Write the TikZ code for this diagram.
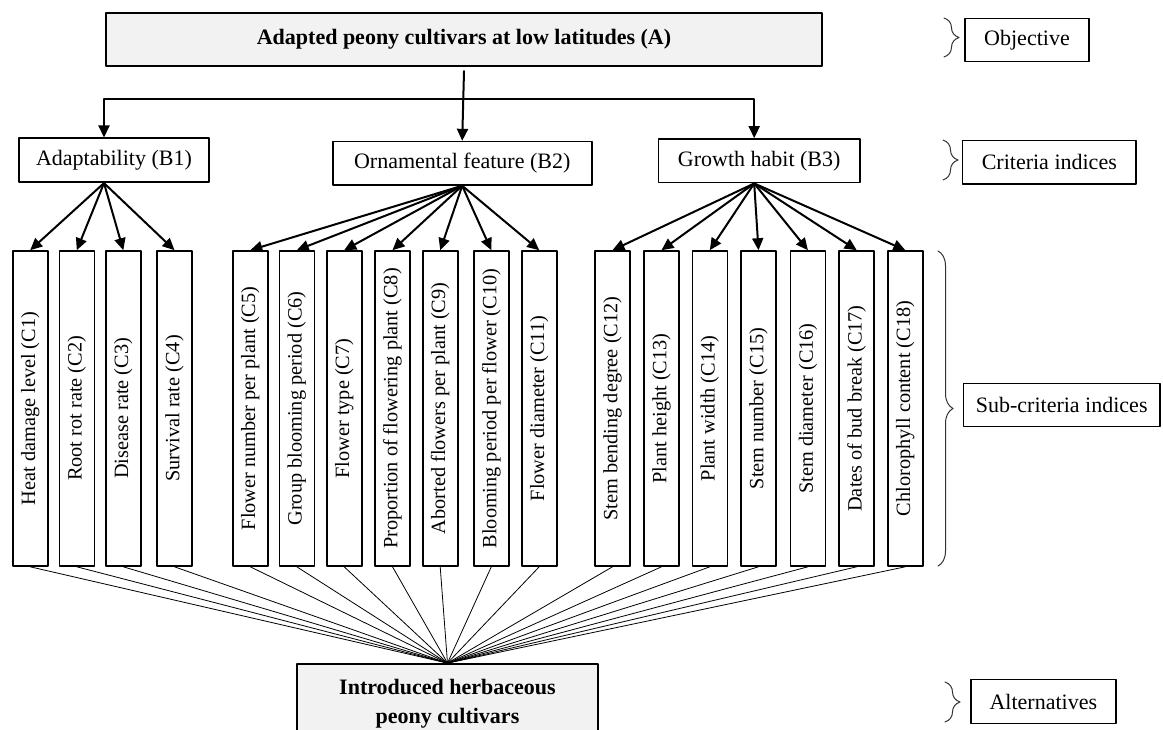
\documentclass[tikz,border=0pt]{standalone}
\usepackage{fontspec}
\setmainfont{Liberation Serif}
\usepackage{graphicx}
\usepackage{tikz}
\usetikzlibrary{arrows.meta,decorations.pathreplacing}
\tikzset{
  every picture/.append style={line cap=round,line join=round},
  ahp goal/.style={draw=black,fill=black!5,line width=1.8pt,minimum width=716pt,minimum height=53pt,inner sep=0pt,font=\fontsize{22}{26}\selectfont\bfseries},
  ahp crit/.style={draw=black,line width=1.6pt,minimum height=44pt,inner sep=0pt,font=\fontsize{22}{26}\selectfont},
  ahp sub/.style={draw=black,line width=1.6pt,minimum width=35pt,minimum height=315pt,inner sep=0pt,font=\fontsize{20.3}{24}\selectfont},
  ahp alt/.style={draw=black,fill=black!5,line width=1.8pt,minimum width=301pt,minimum height=80pt,inner sep=0pt,align=center,font=\fontsize{22}{29}\selectfont\bfseries},
  ahp level/.style={draw=black,line width=1.4pt,minimum height=43.5pt,inner sep=0pt,font=\fontsize{22}{26}\selectfont},
  ahp arrow/.style={line width=2pt,-{Triangle[length=12pt,width=11pt]}},
  ahp link/.style={line width=0.8pt},
  ahp brace/.style={line width=1pt,black!80,decorate,decoration={brace,amplitude=15pt}}
}

\begin{document}
\begin{tikzpicture}[x=1pt,y=-1pt]
  \useasboundingbox (0,0) rectangle (1163,730);
  % hierarchy
  \node[ahp goal] (a) at (464,39.3) {Adapted peony cultivars at low latitudes (A)};
  \node[ahp crit,minimum width=190pt] (b1) at (114,160.3) {Adaptability (B1)};
  \node[ahp crit,minimum width=259pt,minimum height=43.3pt] (b2) at (462.2,163.3) {Ornamental feature (B2)};
  \node[ahp crit,minimum width=201.7pt,minimum height=43.7pt] (b3) at (759.2,160.8) {Growth habit (B3)};
  \foreach \cx/\cn/\ct in {30.2/c1/Heat damage level (C1), 76.8/c2/Root rot rate (C2),
      123.3/c3/Disease rate (C3), 174.5/c4/Survival rate (C4),
      250.3/c5/Flower number per plant (C5), 296.8/c6/Group blooming period (C6),
      344.2/c7/Flower type (C7), 392.5/c8/Proportion of flowering plant (C8),
      440.2/c9/Aborted flowers per plant (C9), 491.3/c10/Blooming period per flower (C10),
      539.2/c11/Flower diameter (C11), 612.5/c12/Stem bending degree (C12),
      661.5/c13/Plant height (C13), 709.8/c14/Plant width (C14),
      758.5/c15/Stem number (C15), 807.9/c16/Stem diameter (C16),
      856.7/c17/Dates of bud break (C17), 905.3/c18/Chlorophyll content (C18)}
    \node[ahp sub] (\cn) at (\cx,408.5) {\rotatebox{90}{\ct}};
  \node[ahp alt] (alt) at (447.5,704) {Introduced herbaceous\\peony cultivars};

  % connectors
  \coordinate (bus) at (463.3,99);
  \draw[ahp arrow] ([yshift=-4.5pt]a.south) -- (b2.north);
  \draw[ahp arrow] (bus) -| ([xshift=-10pt]b1.north);
  \draw[ahp arrow] (bus) -| ([xshift=-5pt]b3.north);
  \foreach \i in {1,...,4}
    \draw[ahp arrow] ([xshift=-10pt]b1.south) -- (c\i.north);
  \foreach \i in {5,...,11}
    \draw[ahp arrow] (b2.south) -- (c\i.north);
  \foreach \i in {12,...,18}
    \draw[ahp arrow] ([xshift=-5pt]b3.south) -- (c\i.north);
  \foreach \i in {1,...,18}
    \draw[ahp link] (c\i.south) -- (alt.north);

  % level labels
  \node[ahp level,minimum width=124pt] (objective) at (1027,40) {Objective};
  \node[ahp level,minimum width=173.3pt] (criteria) at (1049.3,162.3) {Criteria indices};
  \node[ahp level,minimum width=196.7pt] (subcriteria) at (1061.7,405) {Sub-criteria indices};
  \node[ahp level,minimum width=145pt] (alternatives) at (1043.3,701.5) {Alternatives};
  \draw[ahp brace] (944,18) -- (944,57);
  \draw[ahp brace] (943,140) -- (943,180);
  \draw[ahp brace] (938,251) -- (938,566);
  \draw[ahp brace] (945,682) -- (945,722);
\end{tikzpicture}
\end{document}
